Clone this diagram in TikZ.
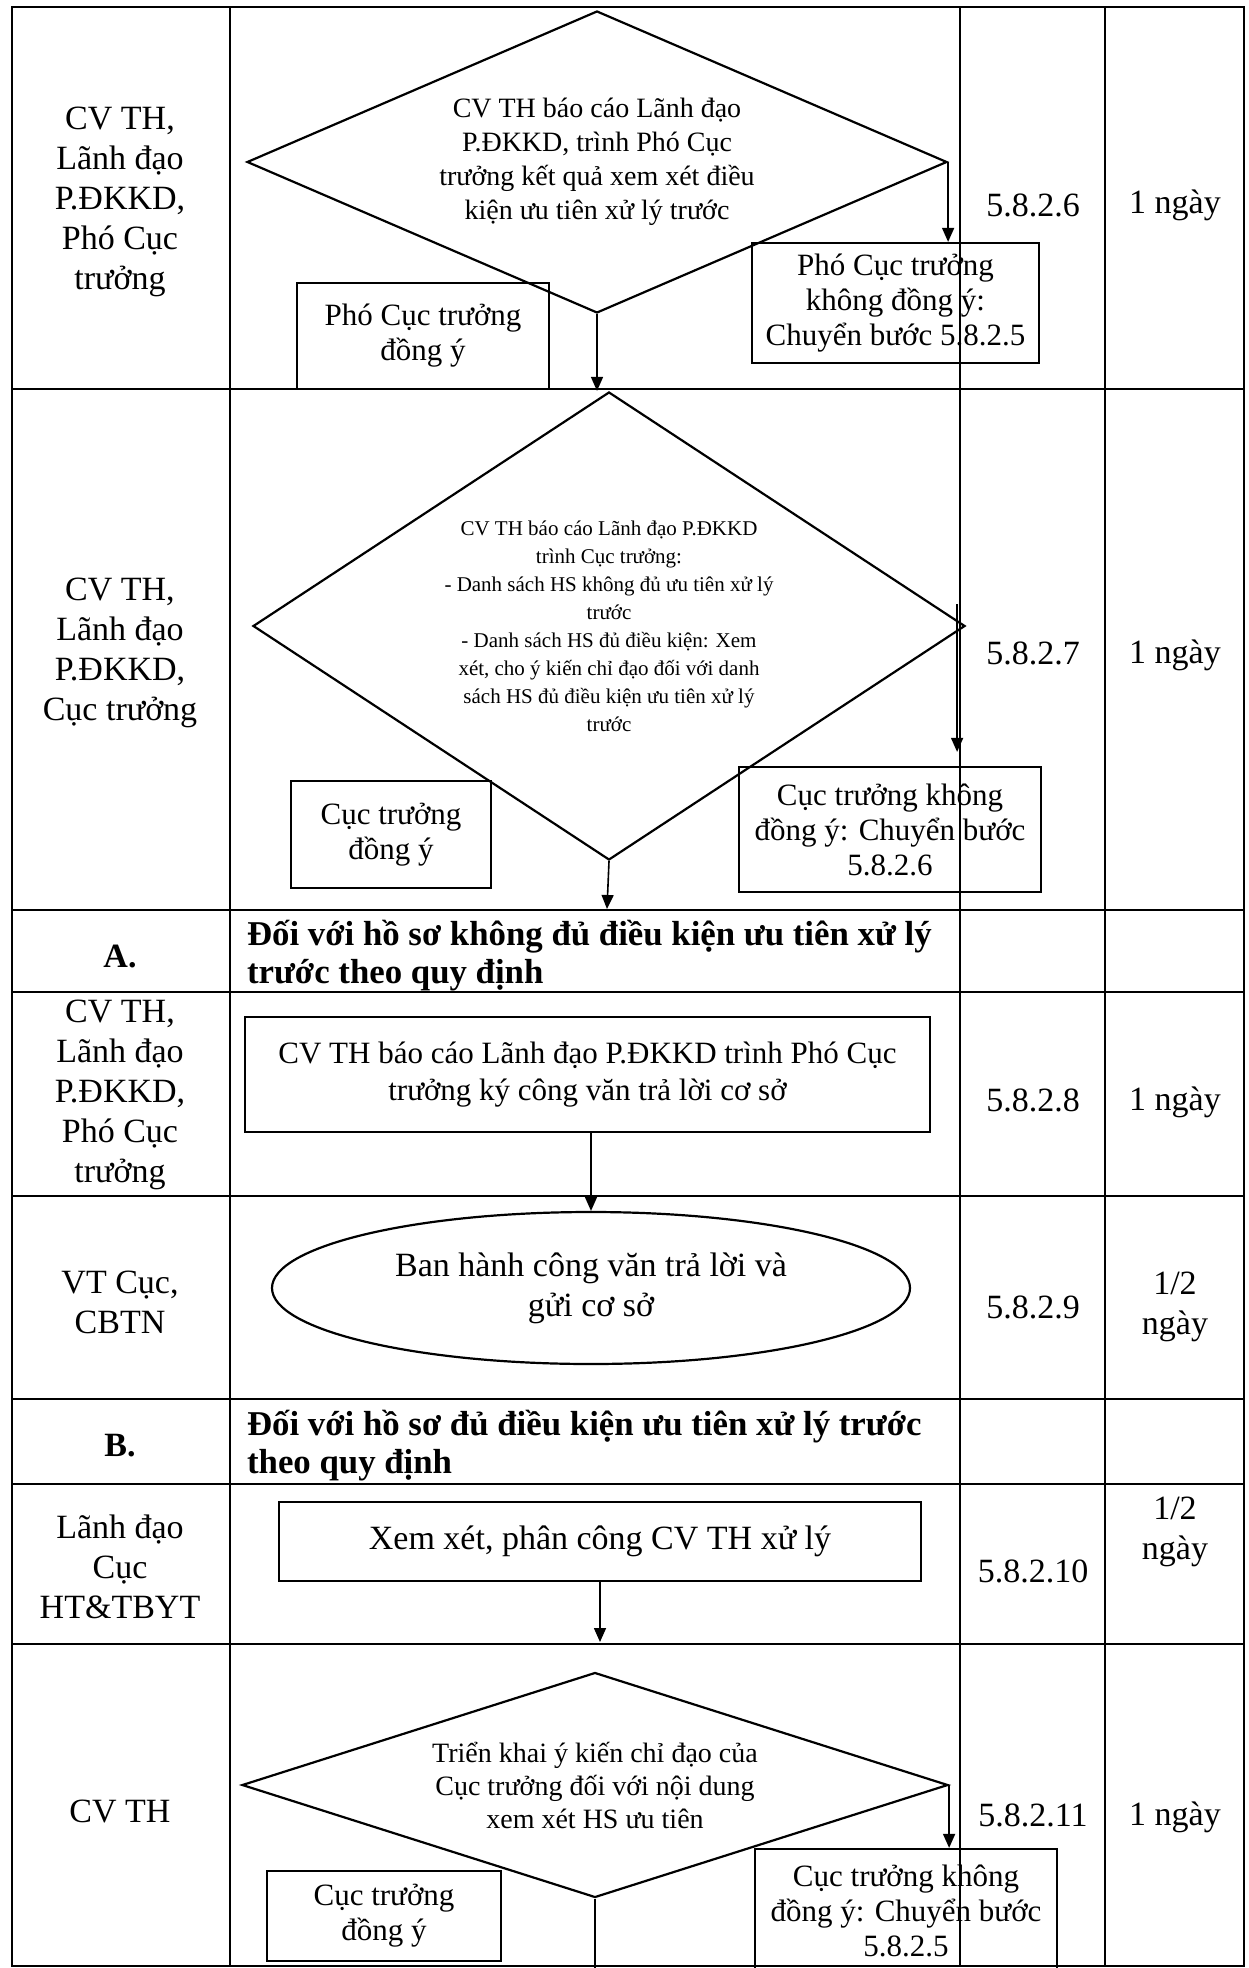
\documentclass[tikz,border=0pt]{standalone}
\usepackage{fontspec}
\setmainfont{Liberation Serif}
\usetikzlibrary{shapes.geometric, arrows.meta}

\begin{document}
\begin{tikzpicture}[x=0.5pt, y=-0.5pt,
		>={Triangle[length=7pt, width=6pt]},
		grid/.style={line width=1.3pt},
		box/.style={draw, rectangle, line width=1.1pt, align=center, inner sep=0pt, font=\fontsize{15.5}{17.5}\selectfont},
		decision/.style={draw, diamond, line width=1.1pt, align=center, inner sep=0pt},
		lane/.style={align=center, font=\fontsize{17}{20}\selectfont},
		code/.style={align=center, font=\fontsize{17}{20}\selectfont},
		tag/.style={font=\bfseries\fontsize{17}{20}\selectfont},
		part/.style={anchor=west, align=left, font=\bfseries\fontsize{17.4}{19}\selectfont},
		flow/.style={->, line width=0.8pt}]
	\useasboundingbox (0,0) rectangle (1248,1968);
	% table
	\draw[grid] (12,7) rectangle (1244,1966);
	\foreach \x in {230, 960, 1105} \draw[grid] (\x,7) -- (\x,1966);
	\foreach \y in {389, 910, 992, 1196, 1399, 1484, 1644} \draw[grid] (12,\y) -- (1244,\y);

	% 5.8.2.6
	\node[lane] (L1)at(120, 202) {CV TH,\\Lãnh đạo\\P.ĐKKD,\\Phó Cục\\trưởng};
	\node[decision, aspect=2.33, minimum width=350pt, minimum height=151pt, font=\fontsize{14}{17}\selectfont] (D1)at(597, 162) {CV TH báo cáo Lãnh đạo\\P.ĐKKD, trình Phó Cục\\trưởng kết quả xem xét điều\\kiện ưu tiên xử lý trước};
	\node[box, minimum width=143.5pt, minimum height=60pt] (N1)at(895.5, 303) {Phó Cục trưởng\\không đồng ý:\\Chuyển bước 5.8.2.5};
	\node[box, minimum width=126pt, minimum height=53pt] (Y1)at(423, 336) {Phó Cục trưởng\\đồng ý};
	\node[code] (M1)at(1033, 205) {5.8.2.6};
	\node[code] (T1)at(1175, 205) {1 ngày};

	% 5.8.2.7
	\node[lane] (L2)at(120, 653) {CV TH,\\Lãnh đạo\\P.ĐKKD,\\Cục trưởng};
	\node[decision, aspect=1.52, minimum width=356pt, minimum height=234pt, font=\fontsize{10.5}{14}\selectfont] (D2)at(609, 626) {CV TH báo cáo Lãnh đạo P.ĐKKD\\trình Cục trưởng:\\- Danh sách HS không đủ ưu tiên xử lý\\trước\\- Danh sách HS đủ điều kiện: Xem\\xét, cho ý kiến chỉ đạo đối với danh\\sách HS đủ điều kiện ưu tiên xử lý\\trước};
	\node[box, minimum width=151pt, minimum height=62.5pt] (N2)at(890, 829.5) {Cục trưởng không\\đồng ý: Chuyển bước\\5.8.2.6};
	\node[box, minimum width=100pt, minimum height=53.5pt] (Y2)at(391, 834.5) {Cục trưởng\\đồng ý};
	\node[code] (M2)at(1033, 653) {5.8.2.7};
	\node[code] (T2)at(1175, 655) {1 ngày};
	\coordinate (E2)at(607, 909);

	% A.
	\node[tag] (A)at(120, 957) {A.};
	\node[part] (HA)at(240, 956) {Đối với hồ sơ không đủ điều kiện ưu tiên xử lý\\trước theo quy định};

	% 5.8.2.8
	\node[lane] (L3)at(120, 1095) {CV TH,\\Lãnh đạo\\P.ĐKKD,\\Phó Cục\\trưởng};
	\node[box, minimum width=342.5pt, minimum height=57.5pt, font=\fontsize{15.5}{18.5}\selectfont] (S8)at(587.5, 1074.5) {CV TH báo cáo Lãnh đạo P.ĐKKD trình Phó Cục\\trưởng ký công văn trả lời cơ sở};
	\node[code] (M3)at(1033, 1100) {5.8.2.8};
	\node[code] (T3)at(1175, 1102) {1 ngày};

	% 5.8.2.9
	\node[lane] (L4)at(120, 1302) {VT Cục,\\CBTN};
	\node[draw, ellipse, line width=1.1pt, minimum width=319pt, minimum height=76pt, align=center, font=\fontsize{17}{20}\selectfont] (E9)at(591, 1288) {Ban hành công văn trả lời và\\gửi cơ sở};
	\node[code] (M4)at(1033, 1307) {5.8.2.9};
	\node[code] (T4)at(1175, 1307) {1/2\\ngày};

	% B.
	\node[tag] (B)at(120, 1446) {B.};
	\node[part] (HB)at(240, 1446) {Đối với hồ sơ đủ điều kiện ưu tiên xử lý trước\\theo quy định};

	% 5.8.2.10
	\node[lane] (L5)at(120, 1567) {Lãnh đạo\\Cục\\HT\&TBYT};
	\node[box, minimum width=321pt, minimum height=39.5pt, font=\fontsize{17}{20}\selectfont] (S10)at(600, 1541.5) {Xem xét, phân công CV TH xử lý};
	\node[code] (M5)at(1033, 1571) {5.8.2.10};
	\node[code] (T5)at(1175, 1532) {1/2\\ngày};
	\coordinate (E5)at(600, 1642);

	% 5.8.2.11
	\node[lane] (L6)at(120, 1811) {CV TH};
	\node[decision, aspect=3.15, minimum width=353pt, minimum height=112.5pt, font=\fontsize{14}{16.5}\selectfont] (D3)at(595, 1785) {Triển khai ý kiến chỉ đạo của\\Cục trưởng đối với nội dung\\xem xét HS ưu tiên};
	\node[box, minimum width=151pt, minimum height=62pt] (N3)at(906, 1911) {Cục trưởng không\\đồng ý: Chuyển bước\\5.8.2.5};
	\node[box, minimum width=117pt, minimum height=45pt] (Y3)at(384, 1916) {Cục trưởng\\đồng ý};
	\node[code] (M6)at(1033, 1815) {5.8.2.11};
	\node[code] (T6)at(1175, 1817) {1 ngày};
	\coordinate (E6)at(595, 1984);

	\draw[flow] (D1.east) -- (D1.east |- N1.north);
	\draw[flow] (D1.south) -- (D1.south |- D2.north);
	\draw[flow] ([xshift=-4.5pt, yshift=11pt]D2.east) -- ([xshift=-4.5pt, yshift=7pt]D2.east |- N2.north);
	\draw[flow] (D2.south) -- (E2);
	\draw[flow] (E9.north |- S8.south) -- (E9.north);
	\draw[flow] (S10.south) -- (E5);
	\draw[flow] (D3.east) -- (D3.east |- N3.north);
	\draw[flow] (D3.south) -- (E6);
\end{tikzpicture}
\end{document}
